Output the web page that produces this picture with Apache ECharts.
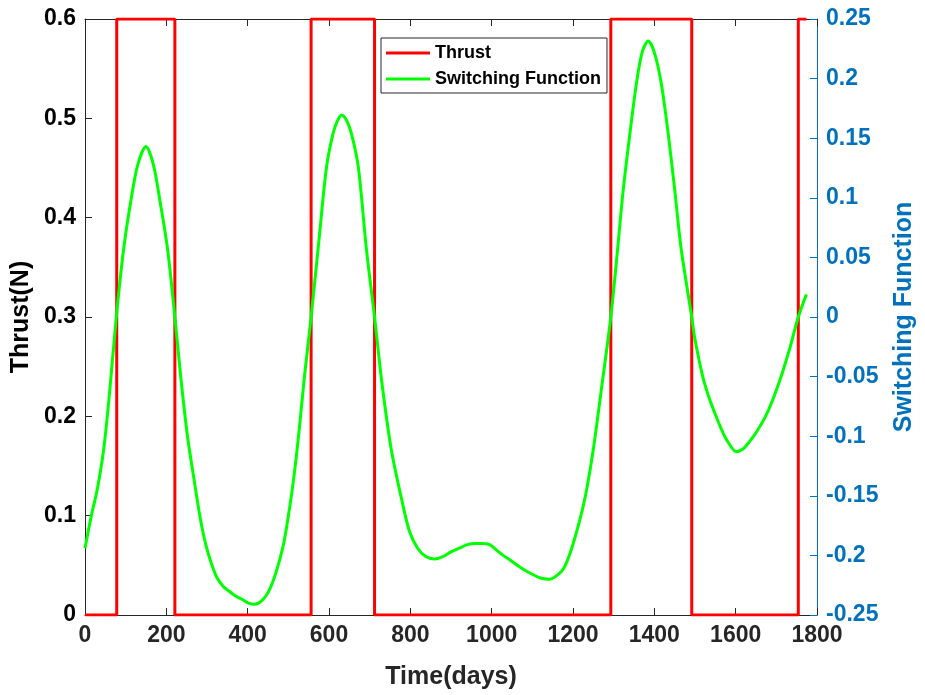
<!DOCTYPE html>
<html>
<head>
<meta charset="utf-8">
<script src="https://cdn.jsdelivr.net/npm/echarts@6/dist/echarts.min.js"></script>
<style>
html,body{margin:0;padding:0;background:#fff;}
#chart{width:925px;height:695px;}
</style>
</head>
<body>
<div id="chart"></div>
<script>
// Thrust (N) step profile
var thrustTimes = [0, 78, 78, 221, 221, 556, 556, 712, 712, 1293, 1293, 1492, 1492, 1754, 1754, 1774];
var thrustValues = [0, 0, 0.6, 0.6, 0, 0, 0.6, 0.6, 0, 0, 0.6, 0.6, 0, 0, 0.6, 0.6];

// Switching function samples
var swTimes = [0, 16, 30, 46, 60, 77, 95, 113, 130, 150, 168, 184, 203, 221,
  236, 252, 268, 283, 297, 311, 325, 340, 354, 370, 387, 402, 417, 435, 452, 470, 488, 500, 513, 526, 539, 556,
  574, 594, 610, 620, 631, 643, 655, 672, 692, 712,
  730, 753, 778, 798, 818, 838, 859, 880, 900, 920, 940, 960, 977, 995, 1010, 1028, 1046, 1070, 1095, 1120, 1142, 1160, 1177, 1193, 1209, 1222, 1234, 1250, 1272, 1293,
  1307, 1323, 1340, 1356, 1370, 1385, 1400, 1417, 1434, 1450, 1466, 1492,
  1499, 1519, 1533, 1548, 1572, 1587, 1601, 1617, 1633, 1654, 1674, 1695, 1715, 1735, 1754, 1774];
var swValues = [-0.194, -0.166, -0.145, -0.111, -0.065, 0.0, 0.057, 0.098, 0.128, 0.143, 0.128, 0.098, 0.057, 0.0,
  -0.052, -0.100, -0.136, -0.168, -0.191, -0.207, -0.219, -0.226, -0.230, -0.234, -0.237, -0.240, -0.241, -0.238, -0.230, -0.214, -0.191, -0.167, -0.136, -0.097, -0.052, 0.0,
  0.060, 0.126, 0.154, 0.164, 0.1695, 0.165, 0.154, 0.126, 0.057, 0.0,
  -0.055, -0.111, -0.152, -0.180, -0.194, -0.201, -0.203, -0.201, -0.197, -0.194, -0.191, -0.190, -0.190, -0.191, -0.195, -0.200, -0.204, -0.210, -0.215, -0.219, -0.220, -0.217, -0.211, -0.198, -0.180, -0.163, -0.144, -0.111, -0.055, 0.0,
  0.047, 0.105, 0.154, 0.196, 0.222, 0.2316, 0.222, 0.196, 0.154, 0.107, 0.057, 0.0,
  -0.017, -0.050, -0.066, -0.080, -0.0995, -0.108, -0.113, -0.111, -0.105, -0.095, -0.083, -0.066, -0.0465, -0.024, 0.0, 0.019];

var xTicks = [0, 200, 400, 600, 800, 1000, 1200, 1400, 1600, 1800];
var seriesNames = ['Thrust', 'Switching Function'];

var thrustData = thrustTimes.map(function (t, i) { return [t, thrustValues[i]]; });
var swData = swTimes.map(function (t, i) { return [t, swValues[i]]; });

var FONT = '"Liberation Sans", Arial, Helvetica, sans-serif';
var BLUE = '#0072BD';
var DARK = '#262626';

var chart = echarts.init(document.getElementById('chart'), null, {renderer: 'canvas'});
chart.setOption({
  animation: false,
  backgroundColor: '#ffffff',
  grid: {left: 85, right: 103, top: 19, bottom: 78, containLabel: false},
  legend: {
    data: seriesNames,
    orient: 'vertical',
    left: 381,
    top: 38,
    padding: [6, 6, 5, 5],
    itemGap: 8,
    itemWidth: 44,
    itemHeight: 3,
    icon: 'rect',
    borderColor: DARK,
    borderWidth: 1,
    borderRadius: 0,
    backgroundColor: '#ffffff',
    textStyle: {fontFamily: FONT, fontWeight: 'bold', fontSize: 18, color: '#000', lineHeight: 18}
  },
  xAxis: [{
    type: 'value',
    min: 0, max: 1800, interval: 200,
    name: 'Time(days)',
    nameLocation: 'middle',
    nameGap: 50,
    nameTextStyle: {fontFamily: FONT, fontWeight: 'bold', fontSize: 25, color: DARK},
    axisLine: {show: true, onZero: false, lineStyle: {color: DARK, width: 1}},
    axisTick: {show: true, inside: true, length: 7, lineStyle: {color: DARK}},
    axisLabel: {fontFamily: FONT, fontWeight: 'bold', fontSize: 23, color: DARK, margin: 9,
      formatter: function (v) { return xTicks.indexOf(v) >= 0 ? String(v) : ''; }},
    splitLine: {show: false}
  }, {
    type: 'value',
    position: 'top',
    min: 0, max: 1800, interval: 200,
    axisLine: {show: true, onZero: false, lineStyle: {color: DARK, width: 1}},
    axisTick: {show: true, inside: true, length: 7, lineStyle: {color: DARK}},
    axisLabel: {show: false},
    splitLine: {show: false}
  }],
  yAxis: [{
    type: 'value',
    position: 'left',
    min: 0, max: 0.6, interval: 0.1,
    name: 'Thrust(N)',
    nameLocation: 'middle',
    nameGap: 42,
    nameTextStyle: {fontFamily: FONT, fontWeight: 'bold', fontSize: 25, color: '#000'},
    axisLine: {show: true, onZero: false, lineStyle: {color: DARK, width: 1}},
    axisTick: {show: true, inside: true, length: 7, lineStyle: {color: DARK}},
    axisLabel: {fontFamily: FONT, fontWeight: 'bold', fontSize: 23, color: '#000', margin: 9,
      formatter: function (v) { return String(+v.toFixed(2)); }},
    splitLine: {show: false}
  }, {
    type: 'value',
    position: 'right',
    min: -0.25, max: 0.25, interval: 0.05,
    name: 'Switching Function',
    nameLocation: 'middle',
    nameGap: 75,
    nameRotate: 90,
    nameTextStyle: {fontFamily: FONT, fontWeight: 'bold', fontSize: 25, color: BLUE},
    axisLine: {show: true, onZero: false, lineStyle: {color: BLUE, width: 1}},
    axisTick: {show: true, inside: true, length: 7, lineStyle: {color: BLUE}},
    axisLabel: {fontFamily: FONT, fontWeight: 'bold', fontSize: 23, color: BLUE, margin: 9,
      formatter: function (v) { return String(+v.toFixed(2)); }},
    splitLine: {show: false}
  }],
  series: [{
    name: seriesNames[0],
    type: 'line',
    xAxisIndex: 0,
    yAxisIndex: 0,
    data: thrustData,
    symbol: 'none',
    lineStyle: {color: '#ff0000', width: 3},
    itemStyle: {color: '#ff0000'},
    z: 2
  }, {
    name: seriesNames[1],
    type: 'line',
    xAxisIndex: 0,
    yAxisIndex: 1,
    data: swData,
    symbol: 'none',
    smooth: 0.3,
    lineStyle: {color: '#00ff00', width: 3},
    itemStyle: {color: '#00ff00'},
    z: 3
  }]
});
</script>
</body>
</html>
